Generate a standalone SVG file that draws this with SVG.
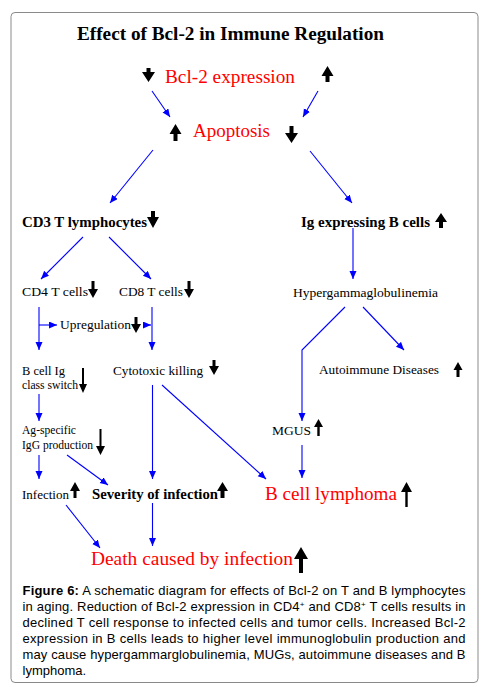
<svg xmlns="http://www.w3.org/2000/svg" width="485" height="687" viewBox="0 0 485 687">
<style>
.t{font-family:"Liberation Serif","Times New Roman",serif;fill:#000}
.s{font-size:13.5px}
.s2{font-size:12px}
.b{font-weight:bold;font-size:14.5px}
.r{fill:#ff0000;font-size:19.5px}
.ba{fill:#000}
.c line,.c polyline{stroke:#0000ff;stroke-width:1.1;fill:none;marker-end:url(#ah)}
.cap{font-family:"Liberation Sans",Arial,sans-serif;font-size:13px;fill:#000}
</style>
<defs>
<marker id="ah" markerUnits="userSpaceOnUse" markerWidth="9" markerHeight="8" refX="8" refY="3.5" orient="auto">
<path d="M0,0 L8,3.5 L0,7 Z" fill="#0000ff"/>
</marker>
</defs>
<rect x="11" y="12.5" width="467" height="670" rx="4" ry="4" fill="#fff" stroke="#8a8a8a" stroke-width="1"/>

<g id="title"><text class="t" x="77" y="39.5" font-size="18.5" font-weight="bold" textLength="307" lengthAdjust="spacingAndGlyphs">Effect of Bcl-2 in Immune Regulation</text></g>

<g id="bcl2">
<path class="ba" d="M146.5,68 L150.5,68 L150.5,72 L155,72 L148.5,82 L142,72 L146.5,72 Z"/>
<text class="t r" x="165" y="82.5" textLength="130" lengthAdjust="spacingAndGlyphs">Bcl-2 expression</text>
<path class="ba" d="M327.5,66 L333.5,76 L329.5,76 L329.5,82 L325.5,82 L325.5,76 L321.5,76 Z"/>
</g>

<g id="apoptosis">
<path class="ba" d="M175.5,124 L181.5,134 L177.5,134 L177.5,141 L173.5,141 L173.5,134 L169.5,134 Z"/>
<text class="t r" x="193" y="137" textLength="77" lengthAdjust="spacingAndGlyphs">Apoptosis</text>
<path class="ba" d="M289.5,126 L293.5,126 L293.5,133 L298,133 L291.5,143 L285,133 L289.5,133 Z"/>
</g>

<g id="cd3">
<text class="t b" x="22" y="227" textLength="125" lengthAdjust="spacingAndGlyphs">CD3  T lymphocytes</text>
<path class="ba" d="M151,211 L155,211 L155,217 L159,217 L153,228 L147,217 L151,217 Z"/>
</g>

<g id="igb">
<text class="t b" x="301" y="227" textLength="129" lengthAdjust="spacingAndGlyphs">Ig expressing B cells</text>
<path class="ba" d="M441,213 L447,222 L443,222 L443,228 L439,228 L439,222 L435,222 Z"/>
</g>

<g id="cd4">
<text class="t s" x="22" y="296" textLength="66" lengthAdjust="spacingAndGlyphs">CD4 T cells</text>
<path class="ba" d="M91.5,281 L94.5,281 L94.5,289 L98,289 L93,298 L88,289 L91.5,289 Z"/>
</g>

<g id="cd8">
<text class="t s" x="119" y="296" textLength="64" lengthAdjust="spacingAndGlyphs">CD8 T cells</text>
<path class="ba" d="M187.5,281 L190.5,281 L190.5,289 L194,289 L189,298 L184,289 L187.5,289 Z"/>
</g>

<g id="upregulation">
<text class="t s" x="60" y="329" textLength="71" lengthAdjust="spacingAndGlyphs">Upregulation</text>
<path class="ba" d="M134.5,317 L137.5,317 L137.5,324 L141,324 L136,333 L131,324 L134.5,324 Z"/>
</g>

<g id="hyper">
<text class="t s" x="293" y="297" textLength="145" lengthAdjust="spacingAndGlyphs">Hypergammaglobulinemia</text>
</g>

<g id="bcellig">
<text class="t s2" x="22" y="374.5" textLength="43" lengthAdjust="spacingAndGlyphs">B cell Ig</text>
<text class="t s2" x="22" y="388.5" textLength="56" lengthAdjust="spacingAndGlyphs">class switch</text>
<path class="ba" d="M82,368 L84,368 L84,384 L87,384 L83,393 L79,384 L82,384 Z"/>
</g>

<g id="cytotoxic">
<text class="t s" x="113" y="375" textLength="90" lengthAdjust="spacingAndGlyphs">Cytotoxic killing</text>
<path class="ba" d="M212.5,360 L215.5,360 L215.5,366 L219,366 L214,375 L209,366 L212.5,366 Z"/>
</g>

<g id="autoimmune">
<text class="t s" x="319" y="374" textLength="120" lengthAdjust="spacingAndGlyphs">Autoimmune Diseases</text>
<path class="ba" d="M458,362 L462.5,370 L459.5,370 L459.5,377 L456.5,377 L456.5,370 L453.5,370 Z"/>
</g>

<g id="agspecific">
<text class="t s2" x="22" y="434" textLength="54" lengthAdjust="spacingAndGlyphs">Ag-specific</text>
<text class="t s2" x="22" y="448.5" textLength="71" lengthAdjust="spacingAndGlyphs">IgG production</text>
<path class="ba" d="M99.5,429 L101.5,429 L101.5,446 L105,446 L100.5,455 L96,446 L99.5,446 Z"/>
</g>

<g id="mgus">
<text class="t s" x="272" y="435" textLength="39" lengthAdjust="spacingAndGlyphs">MGUS</text>
<path class="ba" d="M318.5,419 L323,427 L319.7,427 L319.7,436 L317.3,436 L317.3,427 L314,427 Z"/>
</g>

<g id="infection">
<text class="t s" x="22" y="499" textLength="47" lengthAdjust="spacingAndGlyphs">Infection</text>
<path class="ba" d="M75,482 L80,491 L76.5,491 L76.5,498 L73.5,498 L73.5,491 L70,491 Z"/>
</g>

<g id="severity">
<text class="t b" x="92" y="499" textLength="126" lengthAdjust="spacingAndGlyphs">Severity of infection</text>
<path class="ba" d="M222.5,482 L228,491 L224.5,491 L224.5,498 L220.5,498 L220.5,491 L217,491 Z"/>
</g>

<g id="lymphoma">
<text class="t r" x="265" y="500" textLength="132" lengthAdjust="spacingAndGlyphs">B cell lymphoma</text>
<path class="ba" d="M406.5,482 L412,492 L407.7,492 L407.7,507 L405.3,507 L405.3,492 L401,492 Z"/>
</g>

<g id="death">
<text class="t r" x="91" y="565" textLength="202" lengthAdjust="spacingAndGlyphs">Death caused by infection</text>
<path class="ba" d="M301,547 L308,559 L303,559 L303,573 L299,573 L299,559 L294,559 Z"/>
</g>

<g id="connectors" class="c">
<line x1="152" y1="91" x2="170" y2="117"/>
<line x1="318" y1="91" x2="303" y2="117"/>
<line x1="153" y1="150" x2="110" y2="203"/>
<line x1="310" y1="151" x2="352" y2="203"/>
<line x1="83" y1="237" x2="41" y2="279"/>
<line x1="109" y1="237" x2="151" y2="279"/>
<line x1="353" y1="228" x2="353" y2="279"/>
<line x1="39" y1="307" x2="39" y2="350"/>
<line x1="39" y1="325" x2="57" y2="325"/>
<line x1="143" y1="325" x2="151" y2="325"/>
<line x1="152" y1="307" x2="152" y2="350"/>
<polyline points="345,307 302,350 302,421"/>
<line x1="363" y1="307" x2="404" y2="350"/>
<line x1="39" y1="394" x2="39" y2="421"/>
<line x1="152.5" y1="385" x2="152.5" y2="479"/>
<line x1="162" y1="385" x2="266" y2="479"/>
<line x1="39" y1="455" x2="39" y2="479"/>
<line x1="67" y1="455" x2="108" y2="485"/>
<line x1="302" y1="445" x2="302" y2="478"/>
<line x1="152.5" y1="503" x2="152.5" y2="546"/>
<line x1="66" y1="505" x2="100" y2="548"/>
</g>

<g id="caption">
<text class="cap" x="22.5" y="595" textLength="443" lengthAdjust="spacing"><tspan font-weight="bold">Figure 6:</tspan> A schematic diagram for effects of Bcl-2 on T and B lymphocytes</text>
<text class="cap" x="22.5" y="611" textLength="443" lengthAdjust="spacing">in aging. Reduction of Bcl-2 expression in CD4<tspan dy="-4" font-size="8">+</tspan><tspan dy="4"> and CD8</tspan><tspan dy="-4" font-size="8">+</tspan><tspan dy="4"> T cells results in</tspan></text>
<text class="cap" x="22.5" y="627" textLength="443" lengthAdjust="spacing">declined T cell response to infected cells and tumor cells. Increased Bcl-2</text>
<text class="cap" x="22.5" y="643" textLength="443" lengthAdjust="spacing">expression in B cells leads to higher level immunoglobulin production and</text>
<text class="cap" x="22.5" y="659" textLength="443" lengthAdjust="spacing">may cause hypergammarglobulinemia, MUGs, autoimmune diseases and B</text>
<text class="cap" x="22.5" y="675">lymphoma.</text>
</g>
</svg>
